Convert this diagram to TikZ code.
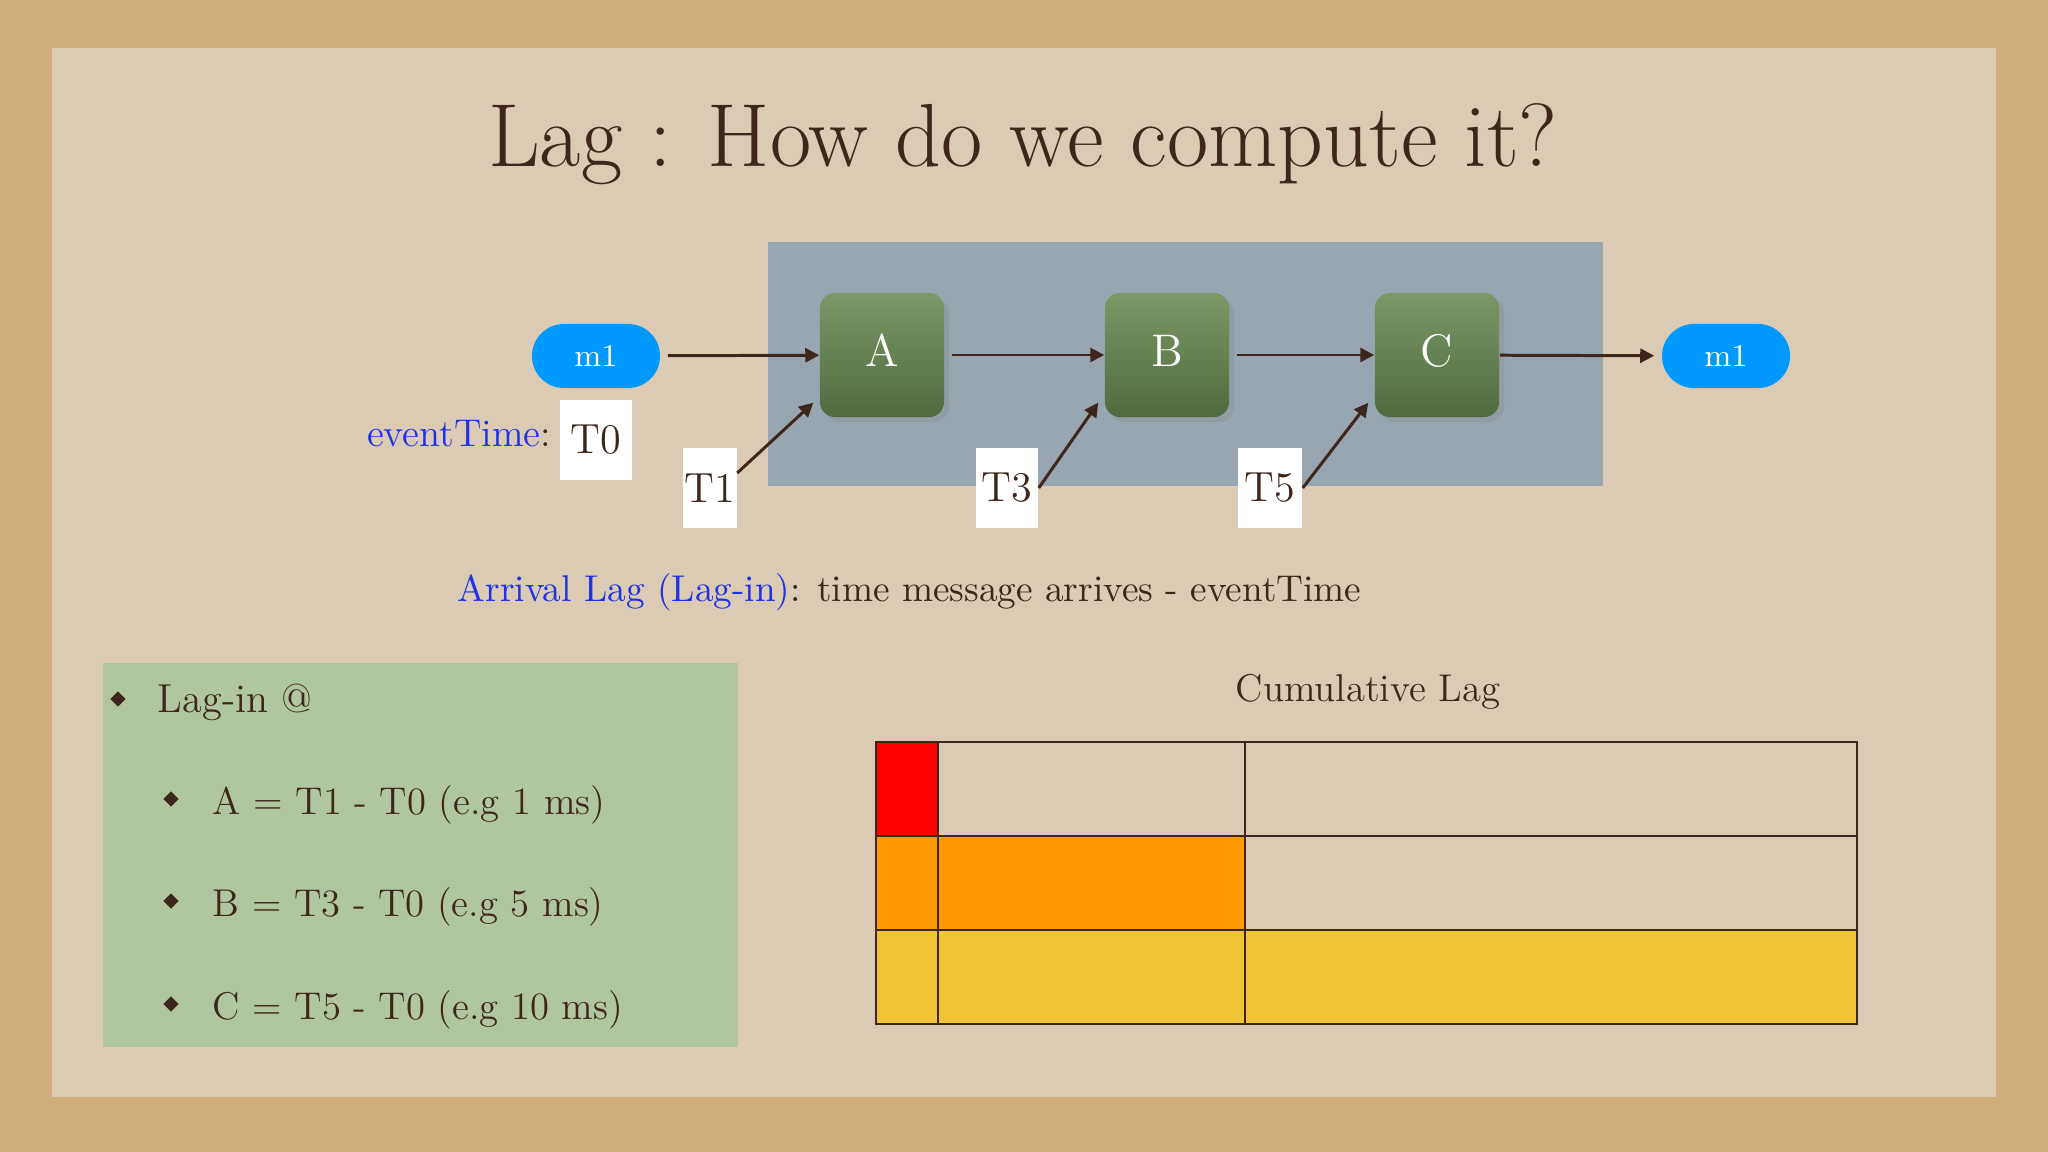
\documentclass[tikz,border=0pt]{standalone}
\usetikzlibrary{arrows.meta,shapes.geometric,shadows}

\definecolor{cork}{RGB}{210,174,124}
\definecolor{paper}{RGB}{220,203,180}
\definecolor{panel}{RGB}{152,166,177}
\definecolor{msgblue}{RGB}{0,153,255}
\definecolor{stagetop}{RGB}{124,152,102}
\definecolor{stagebot}{RGB}{80,106,62}
\definecolor{ink}{RGB}{62,38,28}
\definecolor{linkblue}{RGB}{30,50,230}
\definecolor{notegreen}{RGB}{176,198,160}
\definecolor{lagred}{RGB}{255,0,0}
\definecolor{lagorange}{RGB}{255,153,0}
\definecolor{lagyellow}{RGB}{240,196,52}

\tikzset{
  msg/.style={fill=msgblue, text=white, rounded corners=3.2mm, minimum width=1.28cm,
    minimum height=0.64cm, font=\fontsize{9}{10}\selectfont},
  stage/.style={top color=stagetop, bottom color=stagebot, rounded corners=1.5mm,
    minimum size=1.24cm, text=white, font=\fontsize{13}{15}\selectfont,
    drop shadow={opacity=0.25, shadow xshift=0.5mm, shadow yshift=-0.5mm}},
  tbox/.style={fill=white, minimum height=0.79cm, inner sep=0pt, text=ink,
    font=\fontsize{12}{14}\selectfont},
  flow/.style={draw=ink, line width=0.85pt, -{Triangle[length=1.4mm,width=1.4mm]}},
  bullet/.style={diamond, fill=ink, inner sep=0pt, minimum size=1.6mm},
  words/.style={inner sep=0pt, font=\fontsize{#1}{#1}\selectfont},
}

\begin{document}
\begin{tikzpicture}[x=0.01cm, y=-0.01cm, text=ink]
  \useasboundingbox (0,0) rectangle (2048,1152);
  % Draw the backdrop
  \fill[cork] (0,0) rectangle (2048,1152);
  \fill[paper] (52,48) rectangle (1996,1097);
  \fill[panel] (768,242) rectangle (1603,486);
  \fill[notegreen] (103,663) rectangle (738,1047);

  \node[words=25.5, anchor=base] (title) at (1023,167) {Lag : How do we compute it?};

  \node[msg] (m1in) at (596,356) {m1};
  \node[stage] (A) at (882,355) {\raisebox{0.9mm}{A}};
  \node[stage] (B) at (1167,355) {\raisebox{0.9mm}{B}};
  \node[stage] (C) at (1437,355) {\raisebox{0.9mm}{C}};
  \node[msg] (m1out) at (1726,356) {m1};

  \node[tbox, minimum width=0.72cm] (T0) at (596,440) {T0};
  \node[tbox, minimum width=0.53cm] (T1) at (710,488) {T1};
  \node[tbox, minimum width=0.62cm] (T3) at (1007,488) {T3};
  \node[tbox, minimum width=0.64cm] (T5) at (1270,488) {T5};
  \node[words=11, anchor=base east] (event) at (552,447)
    {\textcolor{linkblue}{eventTime}:};

  % Draw the message path
  \draw[flow, shorten <=2pt] (m1in) -- (A);
  \draw[flow, shorten <=2pt] (A) -- (B);
  \draw[flow, shorten <=2pt] (B) -- (C);
  \draw[flow, shorten >=2pt] (C) -- (m1out);
  \draw[flow] ([yshift=1.5mm]T1.east) -- ([xshift=-0.6mm,yshift=1.5mm]A.south west);
  \draw[flow] (T3.east) -- ([xshift=-0.6mm,yshift=1.5mm]B.south west);
  \draw[flow] (T5.east) -- ([xshift=-0.6mm,yshift=1.5mm]C.south west);

  \node[words=10.6, anchor=base west] (arrival) at (457,601)
    {\textcolor{linkblue}{Arrival Lag (Lag-in)}: time message arrives - eventTime};

  % Lag-in list
  \node[bullet] (b0) at (118,699) {};
  \node[words=11.5, anchor=base west] (lagin) at (157,712) {Lag-in @};
  \foreach \y/\txt [count=\i] in {814/{A = T1 - T0 (e.g 1 ms)},
      916/{B = T3 - T0 (e.g 5 ms)}, 1019/{C = T5 - T0 (e.g 10 ms)}} {
    \node[bullet] (b\i) at (171,{\y-15}) {};
    \node[words=11, anchor=base west] (item\i) at (212,\y) {\txt};
  }

  % Cumulative lag chart
  \node[words=11, anchor=base] (cumul) at (1368,701) {Cumulative Lag};
  \fill[lagred] (876,742) rectangle (938,836);
  \fill[lagorange] (876,836) rectangle (1245,930);
  \fill[lagyellow] (876,930) rectangle (1857,1024);
  \draw[ink, line width=0.5pt] (876,742) rectangle (1857,1024);
  \foreach \y in {836,930} \draw[ink, line width=0.5pt] (876,\y) -- (1857,\y);
  \foreach \x in {938,1245} \draw[ink, line width=0.5pt] (\x,742) -- (\x,1024);
\end{tikzpicture}
\end{document}
